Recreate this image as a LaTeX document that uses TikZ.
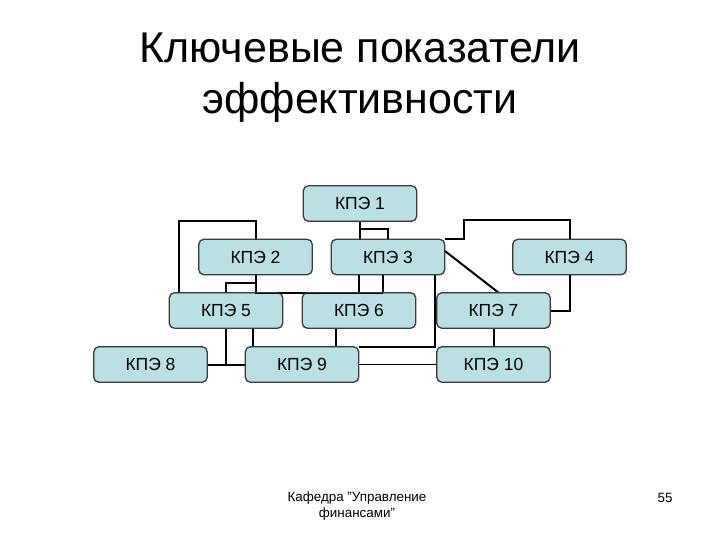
\documentclass[tikz,border=0pt]{standalone}
\usepackage{fontspec}
\setmainfont{Liberation Sans}
\usetikzlibrary{calc,positioning}
\definecolor{kpefill}{RGB}{187,224,227}
\definecolor{kpeedge}{RGB}{60,60,60}
\tikzset{kpe/.style={draw=kpeedge, fill=kpefill, rounded corners=5pt, line width=0.8pt,
        minimum width=113pt, minimum height=35pt, inner sep=0pt, font=\fontsize{17.5}{20}\selectfont},
    conn/.style={line width=2pt, black},
    thinconn/.style={line width=1pt, black}}

\begin{document}
\begin{tikzpicture}[x=1pt,y=-1pt]
    \useasboundingbox (0,0) rectangle (720,540);

    % Draw title and footer.
    \node (title1) [anchor=base, font=\fontsize{43}{50}\selectfont] at (360,63) {Ключевые показатели};
    \node (title2) [anchor=base, font=\fontsize{43}{50}\selectfont] at (360,114) {эффективности};
    \node (footer) [anchor=base, align=center, font=\fontsize{13.4}{16}\selectfont] at (357,517)
        {Кафедра "Управление\\финансами"};
    \node (page) [anchor=base east, font=\fontsize{13.4}{16}\selectfont] at (676,502) {55};

    % Draw the boxes.
    \node (k1) [kpe] at (360,203.5) {КПЭ 1};
    \node (k2) [kpe] at (255.5,257) {КПЭ 2};
    \node (k3) [kpe] at (388,257) {КПЭ 3};
    \node (k4) [kpe] at (569.5,257) {КПЭ 4};
    \node (k5) [kpe] at (226,310.5) {КПЭ 5};
    \node (k6) [kpe] at (359,310.5) {КПЭ 6};
    \node (k7) [kpe] at (493.5,310.5) {КПЭ 7};
    \node (k8) [kpe] at (150.5,364.5) {КПЭ 8};
    \node (k9) [kpe] at (302,364.5) {КПЭ 9};
    \node (k10) [kpe] at (493.5,364.5) {КПЭ 10};

    % Connectors from the top rows.
    \draw[conn] (k1.south) -- (k1.south |- k3.north);
    \draw[conn] ($(k1.south)+(0,8)$) -| (k3.north);
    \draw[conn] (k2.north) -- ++(0,-18) -| ([xshift=10]k5.north west);
    \draw[conn] (k2.south) -- (k2.south |- k5.north) -- ([xshift=24]k6.north);
    \draw[conn] ($(k2.south)+(0,8)$) -| (k5.north);
    \draw[conn] (k6.north |- k3.south) -- (k6.north);
    \draw[conn] ([xshift=-5]k3.south) -- ([xshift=-5]k3.south |- k6.north);
    \draw[conn] ([xshift=-10]k3.south east) |- (k9.north east);
    \draw[conn] (k3.north east) -- ++(19,0) -- ++(0,-19) -| (k4.north);
    \draw[conn] ([yshift=6]k3.east) -- ([xshift=5]k7.north);
    \draw[conn] (k4.south) |- (k7.east);

    % Connectors to the bottom row.
    \draw[conn] (k5.south) -- (k5.south |- k8.east);
    \draw[conn] (k8.east) -- (k9.west);
    \draw[conn] ([xshift=27]k5.south) -- ([xshift=27]k5.south |- k9.north);
    \draw[conn] ([xshift=-23]k6.south) -- ([xshift=-23]k6.south |- k9.north);
    \draw[conn] (k7.south) -- (k10.north);
    \draw[thinconn] (k9.east) -- (k10.west);

    % Redraw boxes over the lines.
    \foreach \n in {k1,k2,k3,k4,k5,k6,k7,k8,k9,k10}
        \draw[draw=kpeedge, line width=0.8pt, rounded corners=5pt] (\n.south west) rectangle (\n.north east);
\end{tikzpicture}
\end{document}
